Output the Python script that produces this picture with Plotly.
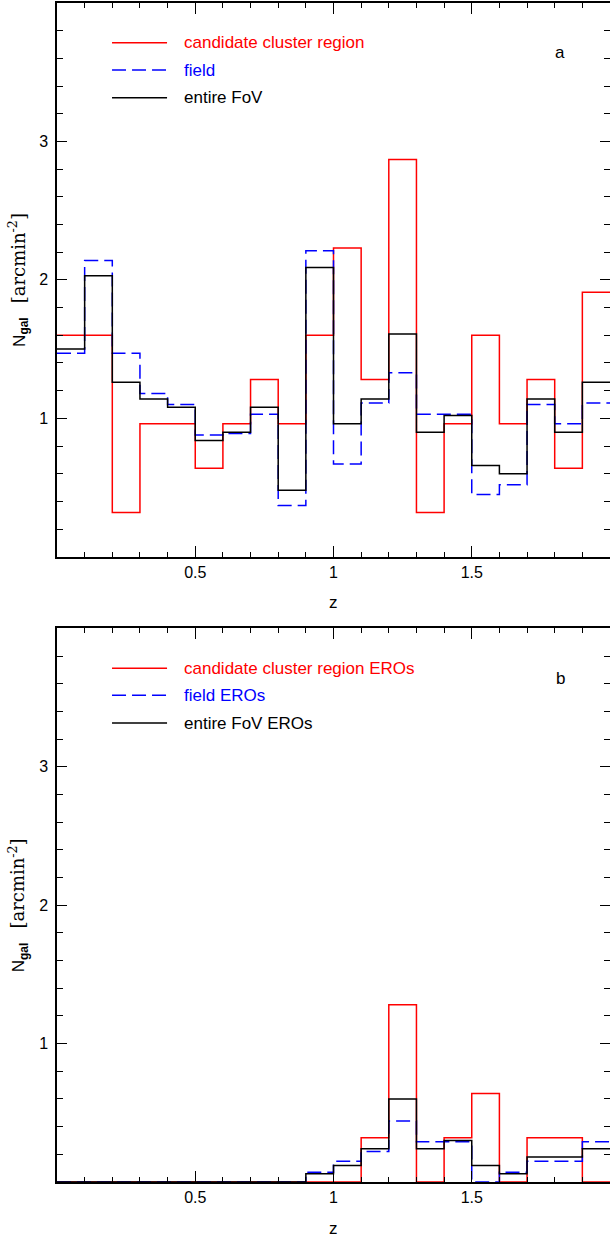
import plotly.graph_objects as go

# bin edges in redshift
z_edges = [0.0, 0.1, 0.2, 0.3, 0.4, 0.5, 0.6, 0.7, 0.8, 0.9, 1.0,
           1.1, 1.2, 1.3, 1.4, 1.5, 1.6, 1.7, 1.8, 1.9, 2.0]

# panel a: all galaxies
a_cluster = [1.60, 1.60, 0.32, 0.96, 0.96, 0.64, 0.96, 1.28, 0.96, 1.60,
             2.23, 1.28, 2.87, 0.32, 0.96, 1.60, 0.96, 1.28, 0.64, 1.91]
a_field = [1.47, 2.14, 1.47, 1.18, 1.10, 0.88, 0.89, 1.03, 0.37, 2.21,
           0.67, 1.11, 1.33, 1.03, 1.03, 0.45, 0.52, 1.10, 0.96, 1.11]
a_fov = [1.50, 2.03, 1.26, 1.14, 1.08, 0.84, 0.90, 1.08, 0.48, 2.09,
         0.96, 1.14, 1.61, 0.90, 1.02, 0.66, 0.60, 1.14, 0.90, 1.26]

# panel b: EROs
b_cluster = [0, 0, 0, 0, 0, 0, 0, 0, 0, 0,
             0, 0.32, 1.28, 0, 0.32, 0.64, 0, 0.32, 0.32, 0]
b_field = [0, 0, 0, 0, 0, 0, 0, 0, 0, 0.07,
           0.15, 0.22, 0.44, 0.29, 0.29, 0.0, 0.07, 0.15, 0.15, 0.29]
b_fov = [0, 0, 0, 0, 0, 0, 0, 0, 0, 0.06,
         0.12, 0.24, 0.60, 0.24, 0.30, 0.12, 0.06, 0.18, 0.18, 0.24]

legend_a = ["candidate cluster region", "field", "entire FoV"]
legend_b = ["candidate cluster region EROs", "field EROs", "entire FoV EROs"]
panel_labels = ["a", "b"]

x_tickvals = [0.5, 1.0, 1.5]
x_ticktext = ["0.5", "1", "1.5"]
y_tickvals = [1, 2, 3]
y_ticktext = ["1", "2", "3"]

RED = "#ff0000"
BLUE = "#0000ff"
BLACK = "#000000"
FONT = "Liberation Sans, Arial, Helvetica, sans-serif"
DASH = "14px,6px"

fig = go.Figure()


def add_hist(vals, color, dash, xa, ya):
    fig.add_trace(go.Scatter(
        x=z_edges, y=list(vals) + [vals[-1]], mode="lines",
        line=dict(color=color, width=1.5, dash=dash, shape="hv"),
        xaxis=xa, yaxis=ya, showlegend=False, hoverinfo="skip"))


for xa, ya, cl, fd, fv in [("x", "y", a_cluster, a_field, a_fov),
                           ("x2", "y2", b_cluster, b_field, b_fov)]:
    add_hist(cl, RED, "solid", xa, ya)
    add_hist(fd, BLUE, DASH, xa, ya)
    add_hist(fv, BLACK, "solid", xa, ya)

# empty traces so the right-hand tick axes render
fig.add_trace(go.Scatter(x=[None], y=[None], xaxis="x", yaxis="y3", showlegend=False))
fig.add_trace(go.Scatter(x=[None], y=[None], xaxis="x2", yaxis="y4", showlegend=False))

xstyle = dict(range=[0, 2], tickvals=x_tickvals, ticktext=x_ticktext,
              ticks="inside", ticklen=11, tickwidth=1.2, tickcolor=BLACK,
              showline=True, linecolor=BLACK, linewidth=1.5, mirror="ticks",
              showgrid=False, zeroline=False,
              minor=dict(ticks="inside", dtick=0.1, ticklen=5, tickwidth=1.2,
                         tickcolor=BLACK, showgrid=False),
              tickfont=dict(family=FONT, size=16, color=BLACK))
ystyle = dict(range=[0, 4], tickvals=y_tickvals, ticktext=y_ticktext,
              ticks="inside", ticklen=10, tickwidth=1.2, tickcolor=BLACK,
              showgrid=False, zeroline=False,
              minor=dict(ticks="inside", dtick=0.2, ticklen=6, tickwidth=1.2,
                         tickcolor=BLACK, showgrid=False),
              tickfont=dict(family=FONT, size=16, color=BLACK))

dom_a = [0.5303, 1.0]
dom_b = [0.0, 0.4696]

fig.update_layout(
    width=610, height=1238,
    margin=dict(l=57, r=0, t=3, b=56),
    paper_bgcolor="white", plot_bgcolor="white",
    showlegend=False,
    xaxis=dict(**xstyle, anchor="y"),
    yaxis=dict(**ystyle, domain=dom_a, anchor="x", showline=True,
               linecolor=BLACK, linewidth=1.5, mirror=False, ticklabelstandoff=4),
    xaxis2=dict(**xstyle, anchor="y2"),
    yaxis2=dict(**ystyle, domain=dom_b, anchor="x2", showline=True,
                linecolor=BLACK, linewidth=1.5, mirror=False, ticklabelstandoff=4),
    yaxis3=dict(**ystyle, overlaying="y", side="right", anchor="x",
                showline=False, showticklabels=False),
    yaxis4=dict(**ystyle, overlaying="y2", side="right", anchor="x2",
                showline=False, showticklabels=False),
)

shapes = []
annotations = []
row_y = [0.928, 0.879, 0.829]
colors = [RED, BLUE, BLACK]
dashes = ["solid", DASH, "solid"]
for xa, ya, labels, plab in [("x", "y", legend_a, panel_labels[0]),
                             ("x2", "y2", legend_b, panel_labels[1])]:
    for i in range(3):
        shapes.append(dict(type="line", xref=xa + " domain", yref=ya + " domain",
                           x0=0.0995, x1=0.199, y0=row_y[i], y1=row_y[i],
                           line=dict(color=colors[i], width=1.5, dash=dashes[i])))
        annotations.append(dict(xref=xa + " domain", yref=ya + " domain",
                                x=0.226, y=row_y[i], xanchor="left", yanchor="middle",
                                text=labels[i], showarrow=False,
                                font=dict(family=FONT, size=17, color=colors[i])))
    annotations.append(dict(xref=xa + " domain", yref=ya + " domain",
                            x=0.91, y=0.91, xanchor="center", yanchor="middle",
                            text=plab, showarrow=False,
                            font=dict(family=FONT, size=17, color=BLACK)))
    # x-axis title
    annotations.append(dict(xref=xa, yref=ya + " domain", x=1.0, y=0,
                            xanchor="center", yanchor="middle", yshift=-46,
                            text="z", showarrow=False,
                            font=dict(family=FONT, size=17, color=BLACK)))
    # y-axis title
    annotations.append(dict(xref=xa + " domain", yref=ya + " domain", x=0, y=0.5,
                            xshift=-39, xanchor="center", yanchor="middle",
                            textangle=-90, showarrow=False,
                            text=("N<sub><b>gal</b></sub>   "
                                  "<span style='font-family:DejaVu Serif;font-size:18px'>"
                                  "[arcmin<sup>-2</sup>]</span>"),
                            font=dict(family=FONT, size=17, color=BLACK)))

fig.update_layout(shapes=shapes, annotations=annotations)

fig.write_html("out.html")
